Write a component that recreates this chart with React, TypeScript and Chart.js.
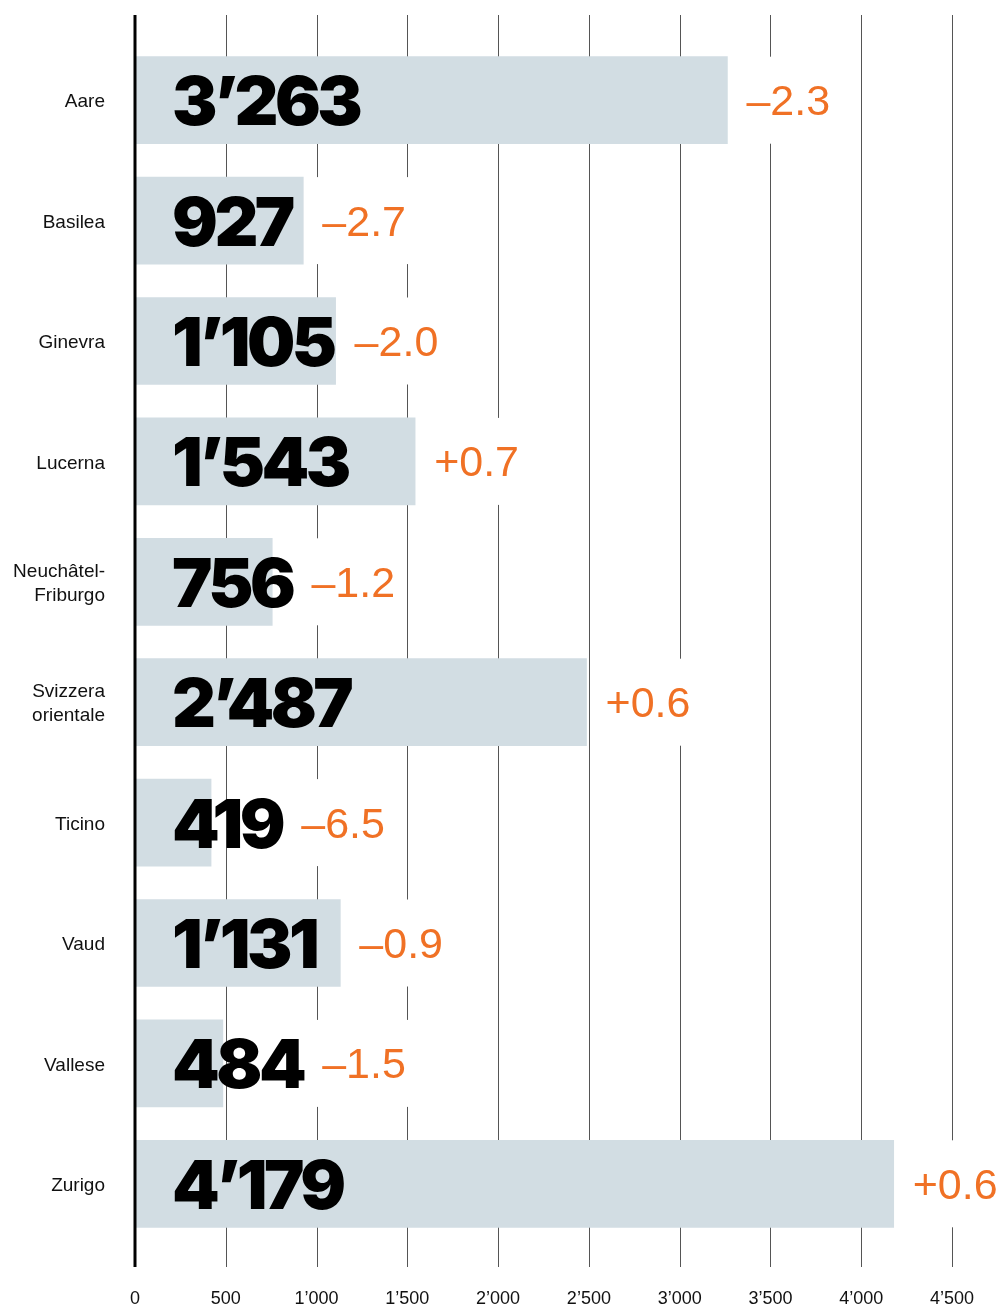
import React, { useEffect, useRef } from "react";
import { Chart, registerables } from "chart.js";

Chart.register(...registerables);

const categories: (string | string[])[] = [
  "Aare",
  "Basilea",
  "Ginevra",
  "Lucerna",
  ["Neuchâtel-", "Friburgo"],
  ["Svizzera", "orientale"],
  "Ticino",
  "Vaud",
  "Vallese",
  "Zurigo",
];
const values: number[] = [3263, 927, 1105, 1543, 756, 2487, 419, 1131, 484, 4179];
const changes: number[] = [-2.3, -2.7, -2.0, 0.7, -1.2, 0.6, -6.5, -0.9, -1.5, 0.6];
const xTicks: number[] = [0, 500, 1000, 1500, 2000, 2500, 3000, 3500, 4000, 4500];

const fmtThousands = (v: number) => {
  const s = String(Math.round(v));
  return s.replace(/\B(?=(\d{3})+(?!\d))/g, "\u2019");
};
const fmtChange = (v: number) => (v < 0 ? "\u2013" : "+") + Math.abs(v).toFixed(1);

const BAR_COLOR = "#d2dde3";
const ORANGE = "#f07125";
const GRID_TOP = 15;
const GRID_BOTTOM = 1267;
const LABEL_FONT = '19px "Liberation Sans", Arial, sans-serif';

const gridPlugin = {
  id: "customGrid",
  beforeDatasetsDraw(chart: any) {
    const ctx = chart.ctx;
    const x = chart.scales.x;
    ctx.save();
    ctx.strokeStyle = "#555";
    ctx.lineWidth = 1;
    xTicks.forEach((t) => {
      if (t === 0) return;
      const px = Math.round(x.getPixelForValue(t)) + 0.5;
      ctx.beginPath();
      ctx.moveTo(px, GRID_TOP);
      ctx.lineTo(px, GRID_BOTTOM);
      ctx.stroke();
    });
    ctx.restore();
  },
  afterDatasetsDraw(chart: any) {
    const ctx = chart.ctx;
    const x = chart.scales.x;
    const y = chart.scales.y;
    const meta = chart.getDatasetMeta(0);
    ctx.save();
    const x0 = x.getPixelForValue(0);
    ctx.strokeStyle = "#000";
    ctx.lineWidth = 3;
    ctx.beginPath();
    ctx.moveTo(x0, GRID_TOP);
    ctx.lineTo(x0, GRID_BOTTOM);
    ctx.stroke();

    // category labels
    ctx.font = LABEL_FONT;
    ctx.fillStyle = "#111";
    ctx.textAlign = "right";
    ctx.textBaseline = "middle";
    categories.forEach((c, i) => {
      const cy = y.getPixelForValue(i);
      const lines = Array.isArray(c) ? c : [c];
      const lh = 24;
      const startY = cy - ((lines.length - 1) * lh) / 2 + 2;
      lines.forEach((ln, k) => ctx.fillText(ln, 105, startY + k * lh));
    });

    meta.data.forEach((bar: any, i: number) => {
      const p = bar.getProps(["x", "y", "base", "height"], true);
      const top = p.y - p.height / 2;
      const bottom = p.y + p.height / 2;
      const vText = fmtThousands(values[i]);
      ctx.font = '900 68px Inter, "Liberation Sans", Arial, sans-serif';
      (ctx as any).letterSpacing = "-3.5px";
      ctx.fillStyle = "#000";
      ctx.textAlign = "left";
      ctx.textBaseline = "alphabetic";
      const vx = x0 + 37;
      ctx.fillText(vText, vx, p.y + 25);
      const vEnd = vx + ctx.measureText(vText).width;
      (ctx as any).letterSpacing = "0px";
      const cText = fmtChange(changes[i]);
      ctx.font = '43px "Liberation Sans", Arial, sans-serif';
      const cx = Math.max(p.x, vEnd) + 19;
      const cw = ctx.measureText(cText).width;
      ctx.fillStyle = "#fff";
      ctx.fillRect(cx - 6, top, cw + 14, bottom - top);
      ctx.fillStyle = ORANGE;
      ctx.fillText(cText, cx, p.y + 15);
    });
    ctx.restore();
  },
};

export default function App() {
  const ref = useRef<HTMLCanvasElement | null>(null);
  useEffect(() => {
    if (!ref.current) return;
    const chart = new Chart(ref.current, {
      type: "bar",
      data: {
        labels: categories,
        datasets: [
          {
            data: values,
            backgroundColor: BAR_COLOR,
            borderWidth: 0,
            barThickness: 87,
          },
        ],
      },
      options: {
        indexAxis: "y",
        responsive: false,
        animation: false,
        devicePixelRatio: 1,
        layout: { padding: { top: 40, right: 53, left: 0, bottom: 0 } },
        plugins: { legend: { display: false }, tooltip: { enabled: false } },
        scales: {
          x: {
            type: "linear",
            min: 0,
            max: 4500,
            afterFit: (s: any) => {
              s.height = 62;
              s.paddingLeft = 0;
              s.paddingRight = 0;
            },
            afterBuildTicks: (s: any) => {
              s.ticks = xTicks.map((v) => ({ value: v }));
            },
            grid: { display: false, drawTicks: false },
            border: { display: false },
            ticks: {
              padding: 44,
              color: "#111",
              font: { family: '"Liberation Sans", Arial, sans-serif', size: 18 },
              callback: (v: any) => fmtThousands(Number(v)),
              maxRotation: 0,
              autoSkip: false,
            },
          },
          y: {
            afterFit: (s: any) => {
              s.width = 135;
              s.paddingTop = 0;
              s.paddingBottom = 0;
            },
            grid: { display: false, drawTicks: false },
            border: { display: false },
            ticks: { display: false },
          },
        },
      },
      plugins: [gridPlugin],
    });
    return () => chart.destroy();
  }, []);
  return (
    <div style={{ position: "absolute", left: 0, top: 0, width: 1005, height: 1306, background: "#fff" }}>
      <canvas ref={ref} width={1005} height={1306} />
    </div>
  );
}
